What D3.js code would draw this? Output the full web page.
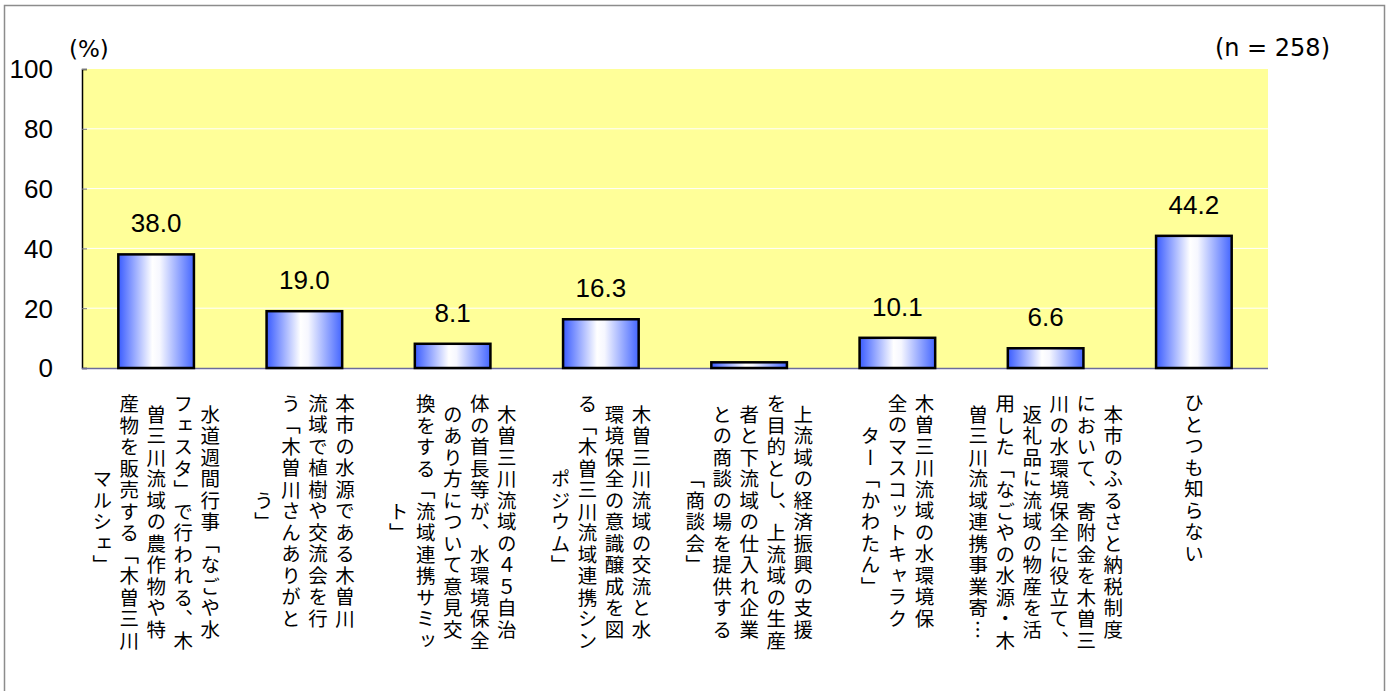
<!DOCTYPE html>
<html>
<head>
<meta charset="utf-8">
<script src="https://cdn.jsdelivr.net/npm/d3@7"></script>
<style>
  body { margin: 0; background: #fff; }
  svg { display: block; }
  .jp { font-family: "Noto Sans CJK JP", "Noto Sans", sans-serif; }
  .num { font-family: "Liberation Sans", Arial, sans-serif; }
  .lat { font-family: "DejaVu Sans", sans-serif; }
</style>
</head>
<body>
<div id="chart"></div>
<script>
// data
var categoryLines = [
    ["水道週間行事「なごや水", "フェスタ」で行われる、木", "曽三川流域の農作物や特", "産物を販売する「木曽三川", "マルシェ」"],
    ["本市の水源である木曽川", "流域で植樹や交流会を行", "う「木曽川さんありがと", "う」"],
    ["木曽三川流域の４５自治", "体の首長等が、水環境保全", "のあり方について意見交", "換をする「流域連携サミッ", "ト」"],
    ["木曽三川流域の交流と水", "環境保全の意識醸成を図", "る「木曽三川流域連携シン", "ポジウム」"],
    ["上流域の経済振興の支援", "を目的とし、上流域の生産", "者と下流域の仕入れ企業", "との商談の場を提供する", "「商談会」"],
    ["木曽三川流域の水環境保", "全のマスコットキャラク", "ター「かわたん」"],
    ["本市のふるさと納税制度", "において、寄附金を木曽三", "川の水環境保全に役立て、", "返礼品に流域の物産を活", "用した「なごやの水源・木", "曽三川流域連携事業寄…"],
    ["ひとつも知らない"]
];
var values = [38.0, 19.0, 8.1, 16.3, 1.9, 10.1, 6.6, 44.2];
var valueLabels = ["38.0", "19.0", "8.1", "16.3", "", "10.1", "6.6", "44.2"];
var yTicks = [0, 20, 40, 60, 80, 100];
var unitLabel = "(%)";
var sampleLabel = "(n = 258)";

var width = 1389, height = 691;
var plot = {left: 82, right: 1268, top: 69, bottom: 368};

var svg = d3.select("#chart").append("svg")
    .attr("width", width)
    .attr("height", height);

// outer frame
svg.append("rect")
    .attr("x", 4.5).attr("y", 5.5)
    .attr("width", 1380).attr("height", 700)
    .attr("fill", "none")
    .attr("stroke", "#8c8c8c")
    .attr("stroke-width", 1.5);

var grad = svg.append("defs").append("linearGradient")
    .attr("id", "barGrad")
    .attr("x1", "0%").attr("x2", "100%").attr("y1", "0%").attr("y2", "0%");
grad.append("stop").attr("offset", "0%").attr("stop-color", "#3a5cff");
grad.append("stop").attr("offset", "45%").attr("stop-color", "#ffffff");
grad.append("stop").attr("offset", "55%").attr("stop-color", "#f6f7ff");
grad.append("stop").attr("offset", "100%").attr("stop-color", "#4466ff");

var x = d3.scaleBand()
    .domain(d3.range(values.length))
    .range([plot.left, plot.right])
    .paddingInner(0.49)
    .paddingOuter(0.245);

var y = d3.scaleLinear()
    .domain([0, 100])
    .range([plot.bottom, plot.top]);

// plot background
svg.append("rect")
    .attr("x", plot.left).attr("y", plot.top)
    .attr("width", plot.right - plot.left)
    .attr("height", plot.bottom - plot.top)
    .attr("fill", "#ffff99");

// gridlines
svg.append("g")
    .selectAll("line")
    .data(yTicks.filter(d => d > 0 && d < 100))
    .enter().append("line")
    .attr("x1", plot.left).attr("x2", plot.right)
    .attr("y1", d => y(d)).attr("y2", d => y(d))
    .attr("stroke", "#ffffff")
    .attr("stroke-width", 1);

// y axis
var yAxis = d3.axisRight(y).tickValues(yTicks).tickSize(5).tickFormat("");
var yg = svg.append("g")
    .attr("transform", "translate(" + plot.left + ",0)")
    .call(yAxis);
yg.select(".domain").attr("stroke", "#000").attr("stroke-width", 1.5);
yg.selectAll(".tick line").attr("stroke", "#777");

svg.append("g")
    .selectAll("text")
    .data(yTicks)
    .enter().append("text")
    .attr("class", "num")
    .attr("x", 53)
    .attr("y", d => y(d))
    .attr("dy", "0.36em")
    .attr("text-anchor", "end")
    .attr("font-size", 26)
    .attr("fill", "#000")
    .text(d => d);

// x axis line
svg.append("line")
    .attr("x1", plot.left).attr("x2", plot.right)
    .attr("y1", plot.bottom + 0.5).attr("y2", plot.bottom + 0.5)
    .attr("stroke", "#6b6b9b")
    .attr("stroke-width", 1.5);

// bars
svg.append("g")
    .selectAll("rect")
    .data(values)
    .enter().append("rect")
    .attr("x", (d, i) => x(i))
    .attr("y", d => y(d))
    .attr("width", x.bandwidth())
    .attr("height", d => y(0) - y(d))
    .attr("fill", "url(#barGrad)")
    .attr("stroke", "#000")
    .attr("stroke-width", 2.5);

// value labels
svg.append("g")
    .selectAll("text")
    .data(values)
    .enter().append("text")
    .attr("class", "num")
    .attr("x", (d, i) => x(i) + x.bandwidth() / 2)
    .attr("y", d => y(d) - 22)
    .attr("text-anchor", "middle")
    .attr("font-size", 26)
    .attr("fill", "#000")
    .text((d, i) => valueLabels[i]);

// category labels, vertical text, columns right to left
var charStep = 22, colStep = 27, labelTop = 391;
var catG = svg.append("g").attr("class", "jp");
categoryLines.forEach(function(lines, i) {
    var cx = x(i) + x.bandwidth() / 2;
    var maxLen = d3.max(lines, l => l.length);
    var midY = labelTop + maxLen * charStep / 2;
    catG.append("g").selectAll("text")
        .data(lines)
        .enter().append("text")
        .attr("x", (d, j) => cx + ((lines.length - 1) / 2 - j) * colStep)
        .attr("y", midY)
        .attr("text-anchor", "middle")
        .style("writing-mode", "vertical-rl")
        .attr("font-size", 19.5)
        .attr("letter-spacing", 2)
        .attr("fill", "#000")
        .text(d => d);
});

// unit and sample size
svg.append("text")
    .attr("class", "lat")
    .attr("x", 69).attr("y", 57)
    .attr("font-size", 23)
    .attr("fill", "#000")
    .text(unitLabel);

svg.append("text")
    .attr("class", "lat")
    .attr("x", 1330).attr("y", 56)
    .attr("text-anchor", "end")
    .attr("font-size", 24)
    .attr("fill", "#000")
    .text(sampleLabel);
</script>
</body>
</html>
